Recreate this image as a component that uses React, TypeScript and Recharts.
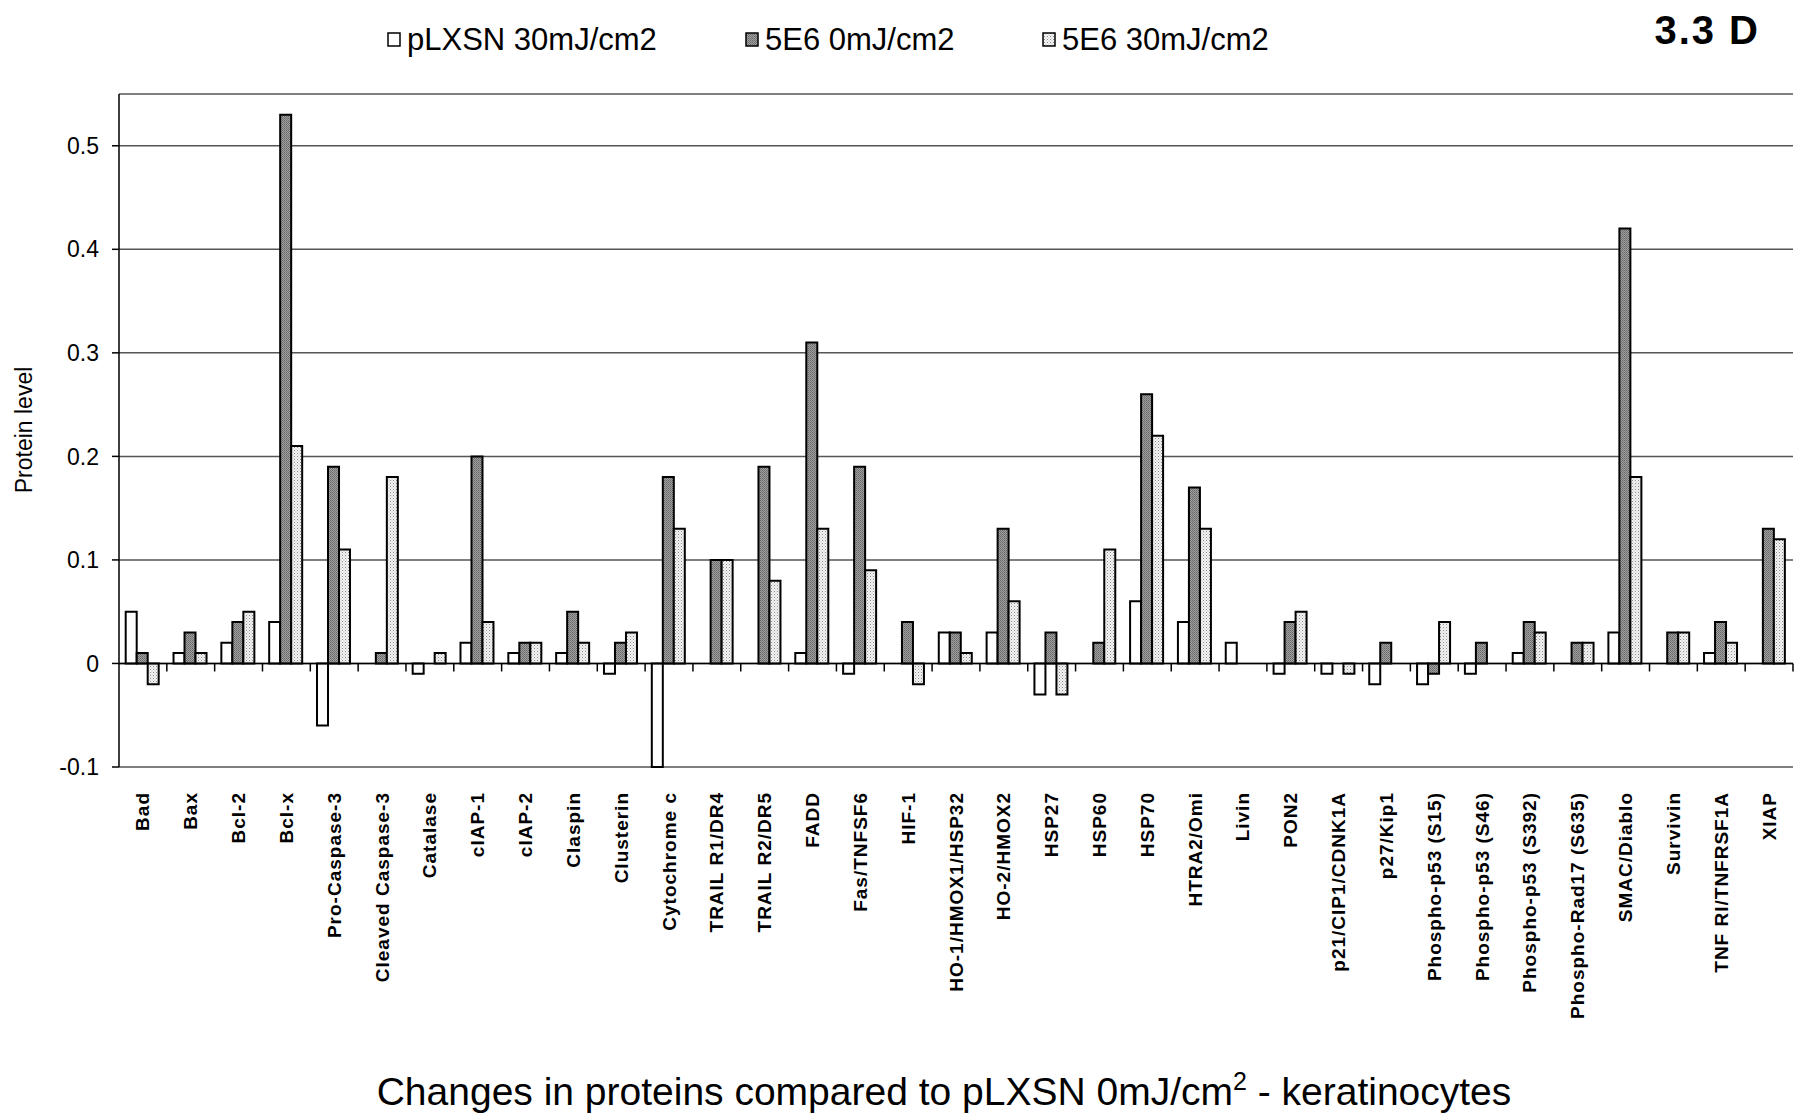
import React from 'react';
import { BarChart, Bar, XAxis, YAxis, CartesianGrid, ReferenceLine } from 'recharts';

const categories = [
  'Bad', 'Bax', 'Bcl-2', 'Bcl-x', 'Pro-Caspase-3', 'Cleaved Caspase-3', 'Catalase',
  'cIAP-1', 'cIAP-2', 'Claspin', 'Clusterin', 'Cytochrome c', 'TRAIL R1/DR4',
  'TRAIL R2/DR5', 'FADD', 'Fas/TNFSF6', 'HIF-1', 'HO-1/HMOX1/HSP32', 'HO-2/HMOX2',
  'HSP27', 'HSP60', 'HSP70', 'HTRA2/Omi', 'Livin', 'PON2', 'p21/CIP1/CDNK1A',
  'p27/Kip1', 'Phospho-p53 (S15)', 'Phospho-p53 (S46)', 'Phospho-p53 (S392)',
  'Phospho-Rad17 (S635)', 'SMAC/Diablo', 'Survivin', 'TNF RI/TNFRSF1A', 'XIAP',
];

// pLXSN 30mJ/cm2
const pLXSN30 = [
  0.05, 0.01, 0.02, 0.04, -0.06, 0, -0.01, 0.02, 0.01, 0.01, -0.01, -0.1,
  0, 0, 0.01, -0.01, 0, 0.03, 0.03, -0.03, 0, 0.06, 0.04, 0.02, -0.01,
  -0.01, -0.02, -0.02, -0.01, 0.01, 0, 0.03, 0, 0.01, 0,
];

// 5E6 0mJ/cm2
const e6Zero = [
  0.01, 0.03, 0.04, 0.53, 0.19, 0.01, 0, 0.2, 0.02, 0.05, 0.02, 0.18,
  0.1, 0.19, 0.31, 0.19, 0.04, 0.03, 0.13, 0.03, 0.02, 0.26, 0.17, 0, 0.04,
  0, 0.02, -0.01, 0.02, 0.04, 0.02, 0.42, 0.03, 0.04, 0.13,
];

// 5E6 30mJ/cm2
const e6Thirty = [
  -0.02, 0.01, 0.05, 0.21, 0.11, 0.18, 0.01, 0.04, 0.02, 0.02, 0.03, 0.13,
  0.1, 0.08, 0.13, 0.09, -0.02, 0.01, 0.06, -0.03, 0.11, 0.22, 0.13, 0, 0.05,
  -0.01, 0, 0.04, 0, 0.03, 0.02, 0.18, 0.03, 0.02, 0.12,
];

const yTicks = [-0.1, 0, 0.1, 0.2, 0.3, 0.4, 0.5];

const legendItems = [
  { label: 'pLXSN 30mJ/cm2', fill: '#fff', x: 388 },
  { label: '5E6 0mJ/cm2', fill: 'url(#darkDots2)', x: 746 },
  { label: '5E6 30mJ/cm2', fill: 'url(#lightDots2)', x: 1043 },
];

const data = categories.map((name, i) => ({
  name,
  pLXSN30: pLXSN30[i],
  e6Zero: e6Zero[i],
  e6Thirty: e6Thirty[i],
}));

const FONT = '"Liberation Sans", Arial, sans-serif';
const W = 1800;
const H = 1116;

const CategoryTick = (props: any) => {
  const { x, y, payload } = props;
  return (
    <text
      transform={`translate(${x},${y}) rotate(-90)`}
      textAnchor="end"
      dominantBaseline="central"
      fontFamily={FONT}
      fontSize={19}
      fontWeight="bold"
      letterSpacing={1}
      fill="#000"
    >
      {payload.value}
    </text>
  );
};

// zero line acts as the category axis, with tick marks between categories
const ZeroAxis = (props: any) => {
  const { x1, x2, y1 } = props;
  const step = (x2 - x1) / categories.length;
  return (
    <g>
      <line x1={x1} y1={y1} x2={x2} y2={y1} stroke="#000" strokeWidth={1.5} />
      {categories.map((_, i) => (
        <line
          key={i}
          x1={x1 + step * (i + 1)}
          x2={x1 + step * (i + 1)}
          y1={y1}
          y2={y1 + 8}
          stroke="#000"
          strokeWidth={1.5}
        />
      ))}
    </g>
  );
};

const Patterns = ({ suffix = '' }: { suffix?: string }) => (
  <defs>
    <pattern id={`darkDots${suffix}`} width="2" height="2" patternUnits="userSpaceOnUse">
      <rect width="2" height="2" fill="#a0a0a0" />
      <rect width="1" height="1" fill="#666" />
      <rect x="1" y="1" width="1" height="1" fill="#777" />
    </pattern>
    <pattern id={`lightDots${suffix}`} width="3" height="3" patternUnits="userSpaceOnUse">
      <rect width="3" height="3" fill="#f4f4f4" />
      <rect width="1" height="1" fill="#8a8a8a" />
      <rect x="1.5" y="1.5" width="1" height="1" fill="#b4b4b4" />
    </pattern>
  </defs>
);

export default function App() {
  return (
    <div style={{ position: 'absolute', left: 0, top: 0, width: W, height: H, background: '#fff' }}>
      <BarChart
        width={W}
        height={H}
        data={data}
        margin={{ top: 94, right: 7, bottom: 79, left: 0 }}
        barCategoryGap="14%"
        barGap={0}
      >
        <Patterns />
        <CartesianGrid vertical={false} stroke="#555" strokeWidth={1.5} />
        <XAxis
          dataKey="name"
          interval={0}
          height={270}
          axisLine={false}
          tickLine={false}
          tickSize={0}
          tickMargin={25}
          tick={(p: any) => <CategoryTick {...p} />}
        />
        <YAxis
          width={119}
          domain={[-0.1, 0.55]}
          ticks={yTicks}
          interval={0}
          axisLine={{ stroke: '#000', strokeWidth: 1.5 }}
          tickLine={{ stroke: '#000', strokeWidth: 1.5 }}
          tickSize={7}
          tickMargin={13}
          tick={{ fill: '#000', fontSize: 23, fontFamily: FONT }}
          tickFormatter={(v: number) => String(v)}
        />
        <Bar dataKey="pLXSN30" fill="#fff" stroke="#000" strokeWidth={2} isAnimationActive={false} />
        <Bar dataKey="e6Zero" fill="url(#darkDots)" stroke="#000" strokeWidth={2} isAnimationActive={false} />
        <Bar dataKey="e6Thirty" fill="url(#lightDots)" stroke="#000" strokeWidth={2} isAnimationActive={false} />
        <ReferenceLine y={0} shape={ZeroAxis} />
      </BarChart>

      <svg
        width={W}
        height={H}
        style={{ position: 'absolute', left: 0, top: 0, pointerEvents: 'none' }}
        fontFamily={FONT}
      >
        <Patterns suffix="2" />
        {legendItems.map((it) => (
          <g key={it.label}>
            <rect x={it.x} y={33} width={12} height={13} fill={it.fill} stroke="#000" strokeWidth={1.5} />
            <text x={it.x + 19} y={50} fontSize={31} fill="#000">
              {it.label}
            </text>
          </g>
        ))}
        <text x={1760} y={44} fontSize={40} fontWeight="bold" letterSpacing={2} textAnchor="end" fill="#000">
          3.3 D
        </text>
        <text
          transform="translate(24,430) rotate(-90)"
          textAnchor="middle"
          dominantBaseline="central"
          fontSize={23}
          fill="#000"
        >
          Protein level
        </text>
        <text x={944} y={1105} fontSize={39} textAnchor="middle" fill="#000">
          Changes in proteins compared to pLXSN 0mJ/cm
          <tspan fontSize={25} dy={-15}>2</tspan>
          <tspan dy={15}> - keratinocytes</tspan>
        </text>
      </svg>
    </div>
  );
}
